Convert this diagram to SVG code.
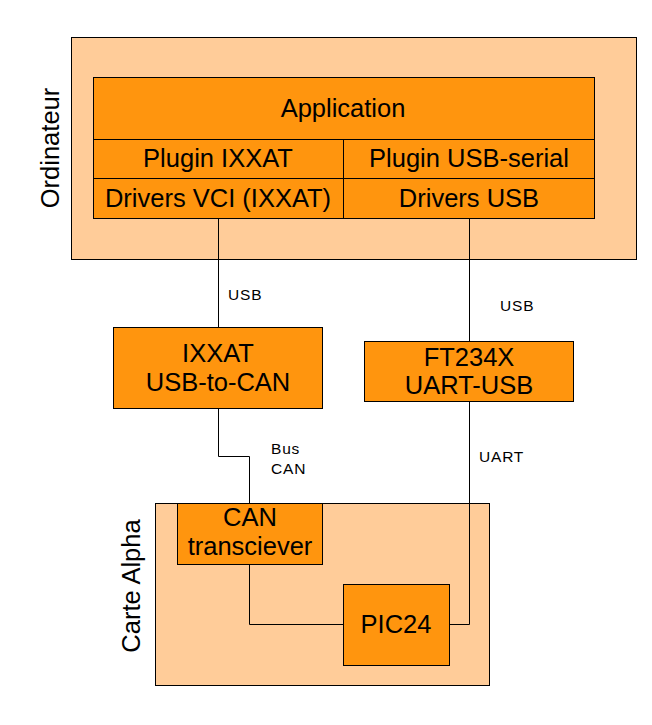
<svg xmlns="http://www.w3.org/2000/svg" width="652" height="725" viewBox="0 0 652 725">
<style>
.cont{fill:#ffcc99;stroke:#000;stroke-width:1}
.box{fill:#ff950e;stroke:#000;stroke-width:1}
.t{font-family:"Liberation Sans",Arial,sans-serif;font-size:25.5px;fill:#000;text-anchor:middle}
.s{font-family:"Liberation Sans",Arial,sans-serif;font-size:15.5px;fill:#000;letter-spacing:0.8px}
.c{fill:none;stroke:#000;stroke-width:1}
</style>
<rect width="652" height="725" fill="#fff"/>
<g id="ordinateur">
<rect class="cont" x="71.5" y="37.5" width="565" height="222"/>
<text class="t" transform="translate(59,148) rotate(-90)">Ordinateur</text>
</g>
<g id="carte-alpha">
<rect class="cont" x="155.5" y="503.5" width="334" height="182"/>
<text class="t" transform="translate(140,586) rotate(-90)">Carte Alpha</text>
</g>
<g id="connectors">
<path class="c" d="M218.5,218 V327"/>
<path class="c" d="M469.5,218 V341"/>
<path class="c" d="M218.5,408 V456.5 H249.5 V503"/>
<path class="c" d="M469.5,401 V624.5 H449"/>
<path class="c" d="M249.5,564 V624.5 H343"/>
<text class="s" x="228" y="300">USB</text>
<text class="s" x="500" y="311">USB</text>
<text class="s" x="271" y="454">Bus</text>
<text class="s" x="271" y="474">CAN</text>
<text class="s" x="479" y="462">UART</text>
</g>
<g id="application">
<rect class="box" x="93.5" y="77.5" width="501" height="62"/>
<text class="t" x="343" y="117">Application</text>
</g>
<g id="plugin-ixxat">
<rect class="box" x="93.5" y="139.5" width="250" height="39"/>
<text class="t" x="218" y="167">Plugin IXXAT</text>
</g>
<g id="plugin-usb-serial">
<rect class="box" x="343.5" y="139.5" width="251" height="39"/>
<text class="t" x="469" y="167">Plugin USB-serial</text>
</g>
<g id="drivers-vci">
<rect class="box" x="93.5" y="178.5" width="250" height="40"/>
<text class="t" x="218" y="207">Drivers VCI (IXXAT)</text>
</g>
<g id="drivers-usb">
<rect class="box" x="343.5" y="178.5" width="251" height="40"/>
<text class="t" x="469" y="207">Drivers USB</text>
</g>
<g id="ixxat">
<rect class="box" x="113.5" y="327.5" width="209" height="81"/>
<text class="t" x="218" y="362">IXXAT</text>
<text class="t" x="218" y="391">USB-to-CAN</text>
</g>
<g id="ft234x">
<rect class="box" x="364.5" y="341.5" width="209" height="60"/>
<text class="t" x="469" y="366">FT234X</text>
<text class="t" x="469" y="394">UART-USB</text>
</g>
<g id="can-transciever">
<rect class="box" x="177.5" y="503.5" width="145" height="61"/>
<text class="t" x="250" y="526">CAN</text>
<text class="t" x="250" y="555">transciever</text>
</g>
<g id="pic24">
<rect class="box" x="343.5" y="584.5" width="106" height="81"/>
<text class="t" x="396" y="633">PIC24</text>
</g>
</svg>
